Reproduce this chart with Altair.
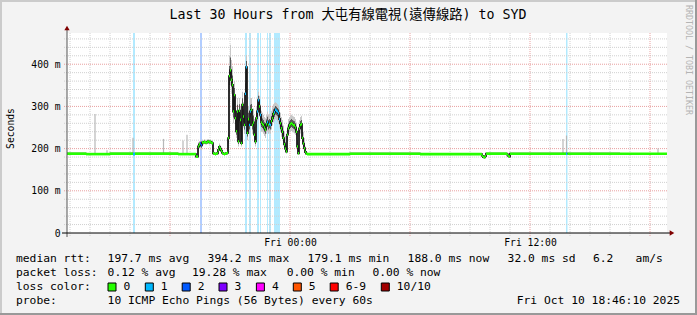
import altair as alt
import pandas as pd

MONO = "DejaVu Sans Mono"
TITLE_FONT = "DejaVu Sans Mono, Noto Sans CJK TC"

# ---------------- data (time in hours relative to Fri 00:00) ----------------
X_START, X_END = -11.15, 18.85
Y_MAX = 474
STEP_H = 0.05  # one RRD step = 3 minutes

before_hour = [-11.15, -10.2, -9.0, -7.85, -7.75, -6.6, -5.6]
before_median = [188, 187, 188, 187, 188, 188, 187]
before_loss = [0, 0, 0, 1, 0, 0, 0]

active_start = -4.70
active_median = [181, 181, 205, 210, 212, 208, 215, 214, 216, 215, 214, 216, 217, 215, 216, 214, 213,
                 189, 188, 187, 188, 189, 197, 204, 200, 195, 190, 188, 187, 188, 189, 190,
                 225, 372, 386, 363, 351, 288, 327, 272, 241, 288, 217, 290, 268, 213, 304, 276, 256,
                 330, 393, 237, 270, 256, 288, 292, 256, 262, 233, 217, 272, 288, 315, 300, 280, 262,
                 258, 256, 250, 245, 258, 263, 256, 258, 256, 265, 272, 282, 286, 292, 290, 288, 284,
                 270, 260, 248, 240, 225, 210, 200, 193, 233, 248, 255, 258, 260, 258, 256, 255, 250,
                 240, 205, 189, 248, 256, 258, 225, 212, 201, 192, 188]
active_hi = [184, 184, 215, 218, 220, 216, 221, 220, 222, 221, 220, 222, 223, 221, 222, 220, 219,
             192, 191, 190, 191, 193, 205, 212, 208, 200, 194, 191, 190, 191, 192, 194,
             240, 420, 446, 410, 395, 340, 360, 320, 290, 320, 270, 320, 300, 260, 335, 310, 300,
             380, 422, 300, 300, 290, 320, 320, 295, 295, 270, 255, 300, 320, 335, 325, 305, 290,
             285, 280, 275, 272, 280, 288, 280, 282, 280, 290, 298, 305, 308, 310, 308, 305, 302,
             292, 285, 275, 268, 255, 240, 230, 220, 255, 270, 275, 278, 280, 278, 276, 275, 270,
             262, 235, 215, 268, 275, 278, 255, 240, 225, 205, 192]
active_lo = [178, 178, 195, 200, 198, 196, 210, 209, 211, 210, 209, 211, 212, 210, 211, 209, 207,
             185, 185, 184, 185, 185, 192, 195, 193, 190, 186, 185, 184, 185, 185, 186,
             200, 330, 350, 330, 300, 260, 290, 245, 225, 255, 205, 260, 240, 205, 270, 250, 235,
             300, 350, 220, 240, 235, 260, 265, 235, 240, 215, 205, 250, 265, 290, 275, 255, 240,
             240, 235, 230, 225, 235, 240, 235, 238, 235, 245, 255, 262, 265, 270, 268, 265, 262,
             250, 240, 228, 222, 210, 198, 192, 188, 215, 232, 238, 240, 242, 240, 238, 236, 232,
             222, 195, 186, 228, 236, 240, 210, 198, 192, 187, 185]
active_loss = [0, 0, 0, 0, 2, 2, 0, 0, 0, 0, 0, 0, 0, 0, 0, 0, 0,
               0, 0, 0, 0, 0, 0, 0, 0, 0, 0, 0, 0, 0, 0, 0,
               0, 0, 0, 0, 0, 0, 0, 0, 0, 0, 0, 0, 0, 0, 0, 0, 0,
               1, 1, 0, 0, 1, 1, 0, 0, 0, 0, 0, 0, 1, 1, 0, 1, 0,
               0, 0, 0, 0, 0, 1, 0, 1, 1, 0, 0, 0, 1, 1, 1, 1, 1,
               1, 0, 0, 0, 0, 0, 0, 0, 0, 0, 0, 0, 0, 0, 0, 0, 0,
               0, 0, 0, 0, 0, 0, 0, 0, 0, 0, 0]

after_hour = [0.85, 3.0, 6.5, 9.6, 9.65, 9.7, 9.75, 9.8, 10.85, 10.9, 10.95, 11.0, 13.8, 13.875, 16.5]
after_median = [187, 188, 187, 183, 180, 179, 182, 188, 186, 183, 181, 188, 188, 188, 188]
after_loss = [0, 0, 0, 0, 0, 0, 0, 0, 0, 0, 0, 0, 1, 0, 0]

spike_hour = [-9.75, -9.15, -7.85, -6.325, -5.35, -5.15, 13.65, 13.825, 18.4]
spike_base = [188, 188, 188, 188, 188, 188, 188, 188, 188]
spike_top = [282, 196, 226, 223, 219, 233, 223, 231, 200]

loss_labels = ["0", "1", "2", "3", "4", "5", "6-9", "10/10"]
loss_colors = ["#26ff00", "#00b8ff", "#0059ff", "#7e00ff", "#ff00ff", "#ff5500", "#ff0000", "#a10000"]

y_ticks = [0, 100, 200, 300, 400]
x_label_hours = [0, 12]

stats_rtt = ["197.7 ms avg", "394.2 ms max", "179.1 ms min", "188.0 ms now", "32.0 ms sd", "6.2", "am/s"]
stats_loss = ["0.12 % avg", "19.28 % max", "0.00 % min", "0.00 % now"]
probe_text = "10 ICMP Echo Pings (56 Bytes) every 60s"
date_text = "Fri Oct 10 18:46:10 2025"
title_text = "Last 30 Hours from 大屯有線電視(遠傳線路) to SYD"

# ---------------- build table ----------------
n_act = len(active_median)
hours = before_hour + [round(active_start + i * STEP_H, 3) for i in range(n_act)] + after_hour
med = before_median + active_median + after_median
hi = before_median + active_hi + after_median
lo = before_median + active_lo + after_median
loss = before_loss + active_loss + after_loss
df = pd.DataFrame({"h": hours, "median": med, "hi": hi, "lo": lo, "loss": loss})
df = df.sort_values("h").reset_index(drop=True)
df["h_end"] = df["h"].shift(-1).fillna(X_END)
df["lidx"] = df["loss"].map(lambda v: v if v <= 5 else (6 if v < 10 else 7))
df["in_hi"] = (df["hi"] + df["median"]) / 2
df["in_lo"] = (df["lo"] + df["median"]) / 2

spikes = pd.DataFrame({"h": spike_hour, "b": spike_base, "t": spike_top})

hg_vals = list(range(20, Y_MAX, 20))
hg = pd.DataFrame({"v": hg_vals, "major": [v % 100 == 0 for v in hg_vals]})
vg_vals = list(range(-11, 19))
vg = pd.DataFrame({"v": vg_vals, "major": [v % 6 == 0 for v in vg_vals]})

# ---------------- scales / axes ----------------
xscale = alt.Scale(domain=[X_START, X_END], nice=False, zero=False)
yscale = alt.Scale(domain=[0, Y_MAX], nice=False)
xaxis = alt.Axis(values=x_label_hours,
                 labelExpr="datum.value == 0 ? 'Fri 00:00' : 'Fri 12:00'",
                 grid=False, ticks=False, domain=False, labelFont=MONO, labelFontSize=9.7,
                 labelColor="#000", labelPadding=4, title=None, labelFlush=False)
yaxis = alt.Axis(values=y_ticks,
                 labelExpr="datum.value == 0 ? '0\u00a0\u00a0' : datum.value + ' m'",
                 grid=False, ticks=False, domain=False, labelFont=MONO, labelFontSize=9.7,
                 labelColor="#000", labelPadding=7, title="Seconds", titleFont=MONO,
                 titleFontSize=9.7, titleFontWeight="normal", titleColor="#000",
                 titleX=-57, titleY=95, titleAngle=270, titleAlign="center", titleBaseline="middle")
X = lambda f: alt.X(f, type="quantitative", scale=xscale, axis=xaxis)
Y = lambda f: alt.Y(f, type="quantitative", scale=yscale, axis=yaxis)
loss_color = alt.Color("lidx:O", scale=alt.Scale(domain=list(range(8)), range=loss_colors), legend=None)

GRID_MINOR = "#d0d0d0"
GRID_MAJOR = "#e8a0a0"

layers = []
# loss stripes
layers.append(alt.Chart(df).transform_filter("datum.loss > 0").mark_rect(opacity=0.3).encode(
    x=X("h"), x2="h_end", y=alt.value(0), y2=alt.value(200), color=loss_color))
# grid
layers.append(alt.Chart(hg).transform_filter("!datum.major").mark_rule(
    color=GRID_MINOR, strokeDash=[1, 1], strokeWidth=1).encode(
    y=Y("v"), x=alt.value(-3), x2=alt.value(600)))
layers.append(alt.Chart(vg).transform_filter("!datum.major").mark_rule(
    color=GRID_MINOR, strokeDash=[1, 1], strokeWidth=1).encode(
    x=X("v"), y=alt.value(0), y2=alt.value(203)))
layers.append(alt.Chart(hg).transform_filter("datum.major").mark_rule(
    color=GRID_MAJOR, strokeDash=[1, 1], strokeWidth=1).encode(
    y=Y("v"), x=alt.value(-3), x2=alt.value(600)))
layers.append(alt.Chart(vg).transform_filter("datum.major").mark_rule(
    color=GRID_MAJOR, strokeDash=[1, 1], strokeWidth=1).encode(
    x=X("v"), y=alt.value(0), y2=alt.value(203)))
# smoke
layers.append(alt.Chart(df).mark_area(interpolate="step-after", color="#c8c8c8").encode(
    x=X("h"), y=Y("lo"), y2="hi"))
layers.append(alt.Chart(df).mark_area(interpolate="step-after", color="#5a5a5a").encode(
    x=X("h"), y=Y("in_lo"), y2="in_hi"))
layers.append(alt.Chart(spikes).mark_rule(color="#b8b8b8", strokeWidth=1.2).encode(
    x=X("h"), y=Y("b"), y2="t"))
# median
layers.append(alt.Chart(df).mark_line(interpolate="step-after", color="#1a1a1a", strokeWidth=1.8).encode(
    x=X("h"), y=Y("median")))
layers.append(alt.Chart(df).mark_rule(strokeWidth=2.6, strokeCap="butt").encode(
    x=X("h"), x2="h_end", y=Y("median"), color=loss_color))

# axes lines and arrows
layers.append(alt.Chart(hg.head(1)).mark_rule(color="#555", strokeWidth=1).encode(
    x=alt.value(0), y=alt.value(204), y2=alt.value(-4)))
layers.append(alt.Chart(hg.head(1)).mark_rule(color="#000", strokeWidth=1).encode(
    x=alt.value(-5), x2=alt.value(603), y=alt.value(200)))
layers.append(alt.Chart(hg.head(1)).mark_point(shape="triangle-up", filled=True, size=28,
                                               color="#7f0000", opacity=1).encode(
    x=alt.value(0), y=alt.value(-5)))
layers.append(alt.Chart(hg.head(1)).mark_point(shape="triangle-right", filled=True, size=28,
                                               color="#7f0000", opacity=1).encode(
    x=alt.value(605), y=alt.value(200)))

one = pd.DataFrame({"k": [0]})


def txt(s, xa, ya, size=11.3, align="left", font=MONO, color="#000", angle=0):
    return alt.Chart(one).mark_text(text=s, align=align, baseline="middle", font=font,
                                    fontSize=size, color=color, angle=angle).encode(
        x=alt.value(xa - 67), y=alt.value(ya - 33))


# title and watermark
layers.append(txt(title_text, 348, 15, size=13.3, align="center", font=TITLE_FONT))
layers.append(txt("RRDTOOL / TOBI OETIKER", 688, 5, size=8.3, color="#b4b4b4", angle=90))

# legend rows
R1, R2, R3, R4 = 259, 273, 287, 301
layers.append(txt("median rtt:", 16, R1))
for s, xa in zip(stats_rtt, [107.6, 207.6, 307.6, 407.6, 507.6, 593, 635.6]):
    layers.append(txt(s, xa, R1))
layers.append(txt("packet loss:", 16, R2))
for s, xa in zip(stats_loss, [107.6, 192, 286.7, 372.4]):
    layers.append(txt(s, xa, R2))
layers.append(txt("loss color:", 16, R3))
box_x = [108, 145.3, 182.2, 219, 256.4, 293.3, 330.2, 381.3]
for lab, col, bx in zip(loss_labels, loss_colors, box_x):
    layers.append(alt.Chart(one).mark_rect(color=col, stroke="#000", strokeWidth=1).encode(
        x=alt.value(bx - 67), x2=alt.value(bx - 67 + 8), y=alt.value(R3 - 33 - 4), y2=alt.value(R3 - 33 + 4)))
    layers.append(txt(lab, bx + 15.5, R3))
layers.append(txt("probe:", 16, R4))
layers.append(txt(probe_text, 107.6, R4))
layers.append(txt(date_text, 680, R4, align="right"))

# frame
layers.append(alt.Chart(one).mark_rule(color="#cbcbcb", strokeWidth=2).encode(
    x=alt.value(-67), x2=alt.value(630), y=alt.value(-32)))
layers.append(alt.Chart(one).mark_rule(color="#cbcbcb", strokeWidth=2).encode(
    x=alt.value(-66), y=alt.value(-33), y2=alt.value(282)))
layers.append(alt.Chart(one).mark_rule(color="#999999", strokeWidth=2).encode(
    x=alt.value(-67), x2=alt.value(630), y=alt.value(281)))
layers.append(alt.Chart(one).mark_rule(color="#999999", strokeWidth=2).encode(
    x=alt.value(629), y=alt.value(-33), y2=alt.value(282)))

chart = alt.layer(*layers).properties(
    width=600, height=200,
    autosize=alt.AutoSizeParams(type="none"),
    padding={"left": 67, "top": 33, "right": 30, "bottom": 82},
    background="#f3f3f3",
).configure_view(fill="#ffffff", stroke=None)

chart.save("out.html", embed_options={"renderer": "svg", "actions": False})
